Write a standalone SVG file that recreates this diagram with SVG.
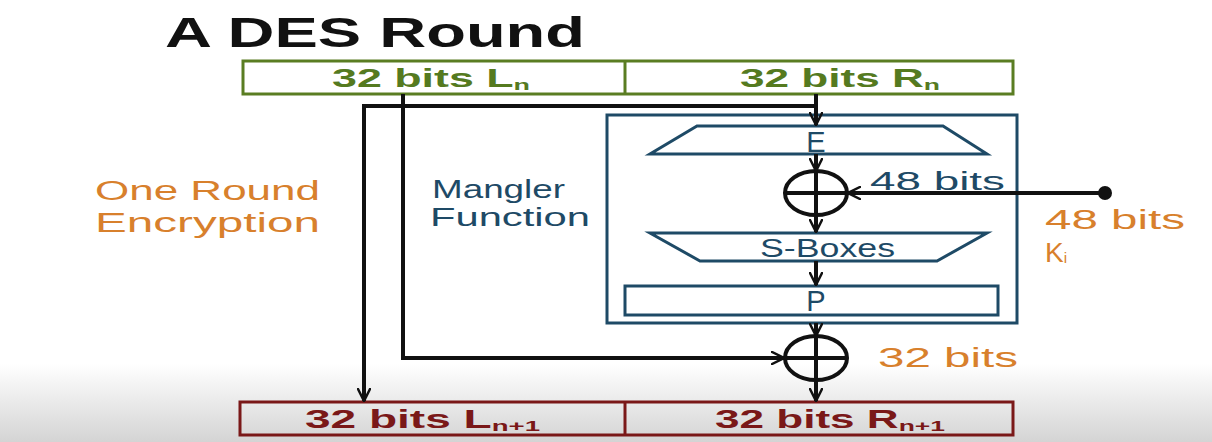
<svg xmlns="http://www.w3.org/2000/svg" width="1212" height="442" viewBox="0 0 1212 442">
<defs>
<linearGradient id="bg" x1="0" y1="0" x2="0" y2="1">
<stop offset="0" stop-color="#ffffff"/>
<stop offset="1" stop-color="#d4d4d4"/>
</linearGradient>
<marker id="arr" viewBox="0 0 14 14" refX="13" refY="7" markerWidth="14" markerHeight="14" markerUnits="userSpaceOnUse" orient="auto">
<path d="M1,1 L13,7 L1,13" fill="none" stroke="#111" stroke-width="2.5" stroke-linecap="round"/>
</marker>
</defs>
<style>
text{font-family:"Liberation Sans",Arial,sans-serif}
.title{font-size:42px;font-weight:bold;fill:#111}
.grn{font-size:25px;fill:#557a1f;font-weight:bold}
.red{font-size:25px;fill:#7a1818;font-weight:bold}
.blu{font-size:26px;fill:#1e4a66}
.big{font-size:29px;fill:#1e4a66}
.org{font-size:27px;fill:#d8802c}
.sub{font-size:15px}
.ln{fill:none;stroke:#111;stroke-width:4}
.mg{fill:#ffffff;stroke:#1e4a66;stroke-width:3}
</style>
<rect x="0" y="0" width="1212" height="442" fill="#ffffff"/>
<rect x="0" y="364" width="1212" height="78" fill="url(#bg)"/>
<text class="title" x="165" y="47" textLength="420" lengthAdjust="spacingAndGlyphs">A DES Round</text>
<g id="top-register">
<rect x="243" y="61" width="770" height="33" fill="none" stroke="#5a7d22" stroke-width="3"/>
<line x1="625" y1="61" x2="625" y2="94" stroke="#5a7d22" stroke-width="3"/>
<text class="grn" x="332" y="87" textLength="198" lengthAdjust="spacingAndGlyphs">32 bits L<tspan class="sub" dy="3">n</tspan></text>
<text class="grn" x="740" y="87" textLength="200" lengthAdjust="spacingAndGlyphs">32 bits R<tspan class="sub" dy="3">n</tspan></text>
</g>
<g id="mangler">
<rect class="mg" x="607" y="115" width="410" height="208"/>
<text class="blu" x="432" y="198" textLength="133" lengthAdjust="spacingAndGlyphs">Mangler</text>
<text class="blu" x="430" y="226" textLength="160" lengthAdjust="spacingAndGlyphs">Function</text>
</g>
<g id="E">
<polygon class="mg" points="697,126 943,126 987,154 650,154"/>
<text class="big" x="816" y="152" text-anchor="middle">E</text>
</g>
<g id="sboxes">
<polygon class="mg" points="650,233 987,233 937,261 700,261"/>
<text class="blu" x="760" y="257" textLength="135" lengthAdjust="spacingAndGlyphs">S-Boxes</text>
</g>
<g id="P">
<rect class="mg" x="625" y="286" width="373" height="29"/>
<text class="big" x="816" y="311" text-anchor="middle">P</text>
</g>
<g id="xor1">
<ellipse cx="816" cy="193" rx="31" ry="22" fill="none" stroke="#111" stroke-width="4"/>
<line x1="785" y1="193" x2="847" y2="193" stroke="#111" stroke-width="4"/>
<text class="blu" x="870" y="190" textLength="135" lengthAdjust="spacingAndGlyphs">48 bits</text>
</g>
<g id="xor2">
<ellipse cx="816" cy="358" rx="31" ry="22" fill="none" stroke="#111" stroke-width="4"/>
<line x1="785" y1="358" x2="847" y2="358" stroke="#111" stroke-width="4"/>
<text class="org" x="878" y="367" textLength="140" lengthAdjust="spacingAndGlyphs">32 bits</text>
</g>
<g id="key">
<circle cx="1105" cy="193" r="7" fill="#111"/>
<text class="org" x="1045" y="229" textLength="140" lengthAdjust="spacingAndGlyphs">48 bits</text>
<text x="1045" y="262" fill="#d8802c" font-size="28"><tspan font-size="28">K</tspan><tspan font-size="15" dy="1">i</tspan></text>
</g>
<g id="label-round">
<text class="org" x="95" y="200" textLength="225" lengthAdjust="spacingAndGlyphs">One Round</text>
<text class="org" x="95" y="232" textLength="225" lengthAdjust="spacingAndGlyphs">Encryption</text>
</g>
<g id="bottom-register">
<rect x="240" y="402" width="773" height="33" fill="none" stroke="#7a1818" stroke-width="3"/>
<line x1="625" y1="402" x2="625" y2="435" stroke="#7a1818" stroke-width="3"/>
<text class="red" x="305" y="428" textLength="235" lengthAdjust="spacingAndGlyphs">32 bits L<tspan class="sub" dy="3">n+1</tspan></text>
<text class="red" x="715" y="428" textLength="230" lengthAdjust="spacingAndGlyphs">32 bits R<tspan class="sub" dy="3">n+1</tspan></text>
</g>
<g id="connectors">
<path class="ln" d="M816,94 V125" marker-end="url(#arr)"/>
<path class="ln" d="M816,106 H364 V401" marker-end="url(#arr)"/>
<path class="ln" d="M816,154 V171" marker-end="url(#arr)"/>
<path class="ln" d="M816,171 V232" marker-end="url(#arr)"/>
<path class="ln" d="M1105,193 H848" marker-end="url(#arr)"/>
<path class="ln" d="M816,261 V285" marker-end="url(#arr)"/>
<path class="ln" d="M816,323 V336" marker-end="url(#arr)"/>
<path class="ln" d="M403,94 V358 H784" marker-end="url(#arr)"/>
<path class="ln" d="M816,336 V401" marker-end="url(#arr)"/>
</g>
</svg>
